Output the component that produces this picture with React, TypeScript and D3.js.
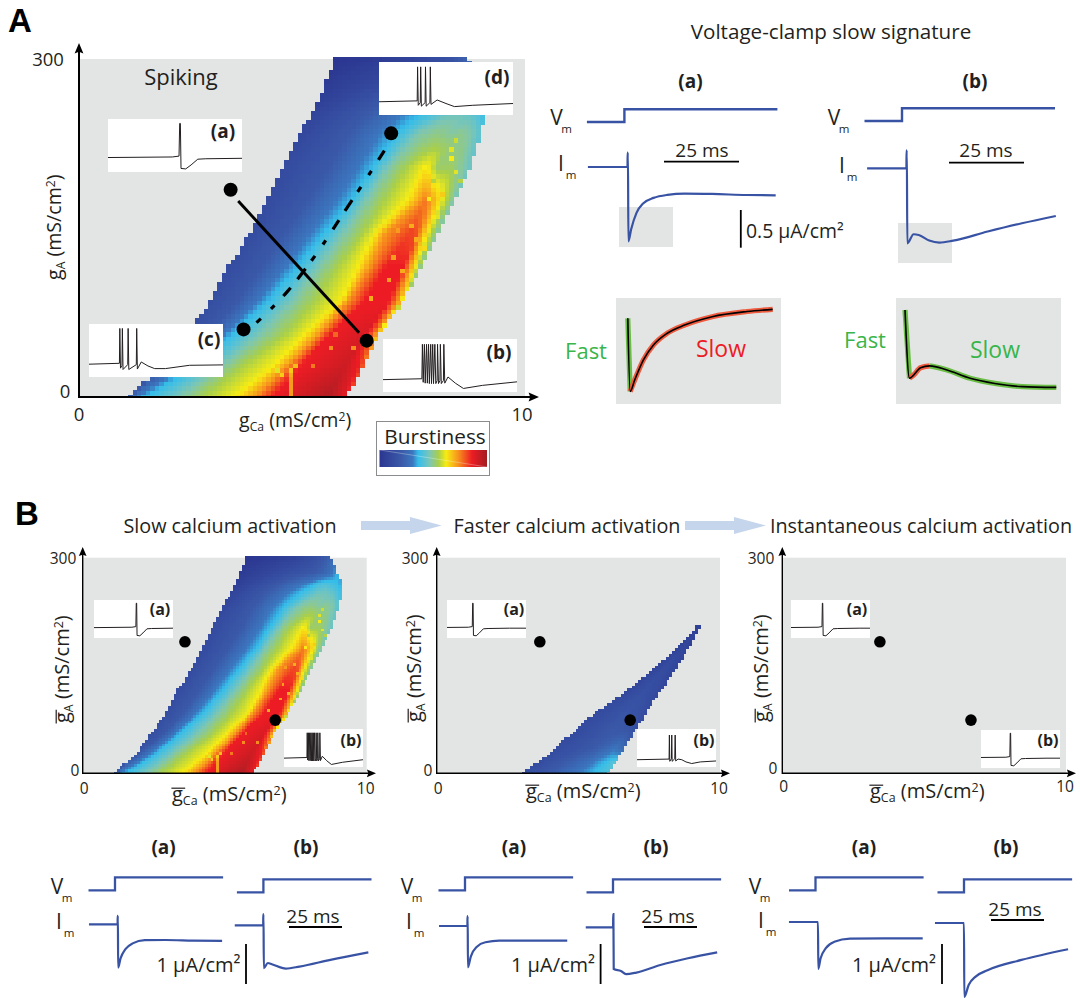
import React from 'react';
import * as d3 from 'd3';

type Pair = [number, number];

// burstiness colour ramp
const burstLevels = [0, 0.2, 0.31, 0.36, 0.42, 0.47, 0.55, 0.62, 0.73, 0.86, 1];
const burstColors = ['#2b3690', '#3a58a8', '#3b78bf', '#35bdea', '#5cc2d2', '#7fc6b0', '#a9cf4a', '#f7ec13', '#f7941d', '#ed1c24', '#a01d22'];

// slow activation map: for each gA row, [gCa, burstiness] read along the row
const slowRowsGA = [0, 27, 57, 86, 116, 146, 175, 205, 234, 251, 264, 280, 300];
const slowRows: Pair[][] = [
  [[1.1, 0.2], [1.2, 0.28], [1.47, 0.36], [2.24, 0.47], [2.78, 0.55], [3.48, 0.62], [3.94, 0.73], [4.33, 0.86], [5.57, 0.97], [5.88, 0.9], [5.99, 0.85]],
  [[1.86, 0.16], [1.95, 0.2], [2.55, 0.36], [3.17, 0.47], [3.63, 0.55], [4.33, 0.62], [4.64, 0.73], [4.95, 0.86], [5.95, 0.92], [6.26, 0.86], [6.38, 0.78]],
  [[2.44, 0.14], [2.9, 0.2], [3.45, 0.36], [4.1, 0.47], [4.64, 0.55], [5.1, 0.62], [5.41, 0.73], [5.65, 0.86], [6.42, 0.9], [6.65, 0.75], [6.73, 0.62]],
  [[2.96, 0.14], [3.55, 0.2], [4.25, 0.36], [4.8, 0.47], [5.3, 0.55], [5.88, 0.62], [6.03, 0.73], [6.42, 0.86], [6.96, 0.86], [7.19, 0.7], [7.27, 0.55]],
  [[3.35, 0.13], [4.1, 0.2], [4.9, 0.36], [5.4, 0.47], [5.8, 0.55], [6.26, 0.62], [6.53, 0.73], [6.88, 0.86], [7.27, 0.86], [7.54, 0.62], [7.66, 0.5]],
  [[3.85, 0.13], [4.6, 0.2], [5.5, 0.36], [5.95, 0.47], [6.38, 0.55], [6.65, 0.62], [6.88, 0.73], [7.42, 0.82], [7.58, 0.8], [7.81, 0.62], [8.04, 0.48]],
  [[4.2, 0.12], [5.1, 0.2], [6.1, 0.36], [6.45, 0.47], [6.85, 0.55], [7.35, 0.62], [7.66, 0.72], [7.77, 0.76], [7.89, 0.72], [8.12, 0.62], [8.43, 0.45]],
  [[4.57, 0.12], [5.6, 0.2], [6.6, 0.36], [6.95, 0.47], [7.35, 0.55], [7.66, 0.6], [7.77, 0.62], [7.89, 0.6], [8.04, 0.52], [8.35, 0.53], [8.78, 0.44]],
  [[4.95, 0.1], [6.0, 0.2], [7.1, 0.36], [7.6, 0.47], [7.97, 0.5], [8.1, 0.5], [8.2, 0.49], [8.35, 0.48], [8.55, 0.5], [8.8, 0.47], [9.0, 0.42]],
  [[5.2, 0.08], [6.4, 0.2], [7.6, 0.36], [8.28, 0.45], [8.4, 0.45], [8.5, 0.45], [8.6, 0.45], [8.7, 0.44], [8.8, 0.43], [8.95, 0.41], [9.1, 0.37]],
  [[5.37, 0.05], [6.7, 0.18], [8.0, 0.33], [8.3, 0.38], [8.4, 0.39], [8.5, 0.4], [8.6, 0.4], [8.7, 0.39], [8.8, 0.38], [8.95, 0.37], [9.1, 0.34]],
  [[5.55, 0.03], [6.9, 0.12], [8.1, 0.2], [8.3, 0.22], [8.4, 0.23], [8.5, 0.24], [8.6, 0.26], [8.7, 0.28], [8.8, 0.3], [8.9, 0.34], [8.95, 0.36]],
  [[5.72, 0], [6.6, 0.03], [7.2, 0.06], [7.6, 0.09], [7.9, 0.12], [8.1, 0.14], [8.25, 0.16], [8.4, 0.18], [8.5, 0.2], [8.6, 0.22], [8.71, 0.24]],
];
// single off-colour cells: gCa, gA, burstiness
const slowSpecks: [number, number, number][] = [
  [4.7, 0, 0.72], [4.7, 4, 0.72], [4.7, 8, 0.72], [4.7, 12, 0.72], [4.7, 16, 0.72], [4.7, 20, 0.7], [4.7, 24, 0.66], [4.8, 28, 0.68],
  [4.4, 24, 0.6], [4.5, 20, 0.66], [5.2, 28, 0.76], [5.6, 44, 0.74], [5.7, 56, 0.78], [6.1, 44, 0.74], [6.5, 88, 0.7], [6.9, 104, 0.72],
  [7.2, 112, 0.7], [7.0, 124, 0.72], [7.3, 92, 0.72], [7.1, 148, 0.72], [7.4, 152, 0.7], [7.5, 140, 0.7], [8.0, 160, 0.6], [7.8, 176, 0.62],
  [7.9, 190, 0.56], [8.3, 210, 0.62], [8.4, 200, 0.6], [8.5, 192, 0.56], [8.3, 220, 0.6], [8.4, 228, 0.58], [8.1, 180, 0.66], [7.7, 132, 0.64],
];

// faster activation map, same reading
const fasterRowsGA = [0, 16, 35, 63, 86, 118, 158, 192, 204];
const fasterRows: Pair[][] = [
  [[2.98, 0.14], [3.8, 0.19], [4.8, 0.29], [5.6, 0.37], [6.04, 0.4]],
  [[3.6, 0.13], [4.3, 0.19], [5.2, 0.27], [6.0, 0.37], [6.29, 0.42]],
  [[4.2, 0.13], [5.0, 0.17], [5.7, 0.22], [6.3, 0.3], [6.6, 0.25]],
  [[4.95, 0.12], [5.7, 0.16], [6.3, 0.2], [6.8, 0.18], [7.06, 0.14]],
  [[5.65, 0.12], [6.2, 0.15], [6.7, 0.18], [7.2, 0.15], [7.41, 0.12]],
  [[6.82, 0.1], [7.1, 0.13], [7.4, 0.15], [7.7, 0.13], [7.95, 0.1]],
  [[8.0, 0.08], [8.15, 0.1], [8.3, 0.12], [8.5, 0.1], [8.65, 0.08]],
  [[8.94, 0.06], [8.98, 0.07], [9.03, 0.08], [9.08, 0.07], [9.12, 0.06]],
  [[9.12, 0.06], [9.16, 0.07], [9.2, 0.08], [9.25, 0.07], [9.29, 0.06]],
];

// voltage traces of the insets: time (ms), Vm (mV)
const spikeOne: Pair[] = [[-30, -48], [48, -46], [53, -44], [53.5, 30], [54, 30], [54.5, -72], [58, -73], [62, -64], [67, -51], [73, -50], [100, -49], [140, -49]];
const spikeTwoBurst: Pair[] = [[0, -57], [40.6, -55], [41, 21], [41.5, -62], [43.6, -54], [44, 21], [44.5, -62], [47.8, -54], [48.3, 21], [49, -61], [52, -55], [56.7, -57], [62, -64], [69.3, -69], [80, -64], [100, -61]];
const spikeFour: Pair[] = [[0, -51], [22.7, -49], [23, 30], [23.5, -60], [24.6, -54], [24.9, 30], [25.4, -63], [28.9, -52], [29.2, 30], [29.7, -63], [35.3, -52], [35.6, 30], [36.1, -62], [39, -46], [44, -55], [49, -61], [57, -61], [75, -53.5], [100, -52.6]];
const spikeFourD: Pair[] = [[0, -50], [28.5, -48], [28.8, 29], [29.3, -58], [30.8, -52], [31.1, 29], [31.6, -60], [34.4, -52], [34.7, 29], [35.2, -60], [38, -52], [38.3, 29], [38.8, -56], [43.4, -46], [50, -54], [56.3, -61], [70, -58], [100, -54]];
const spikeBurst: Pair[] = [[0, -52], [29, -50], [29.4, 28], [30, -58], [30.9, 28], [31.5, -60], [32.5, 28], [33.1, -60], [34, 28], [34.6, -61], [35.6, 28], [36.2, -61], [37.1, 28], [37.7, -61], [38.7, 28], [39.4, -61], [40.4, -54], [40.7, 28], [41.4, -61], [42.5, -54], [42.8, 28], [43.5, -61], [45.1, -54], [45.4, 28], [46.1, -60], [48.5, -46], [54, -60], [60, -72], [74.2, -65], [100, -57]];

// voltage step and clamp currents: time (ms), current (uA/cm2, relative to holding)
const vmStep: Pair[] = [[-12.5, 0], [0, 0], [0, 10], [51, 10]];
const imSmallA: Pair[] = [[-13.3, 0], [-0.1, 0], [-0.05, 0.19], [0.05, 0.19], [0.2, -0.987], [1.1, -0.83], [2.9, -0.61], [5.2, -0.48], [8.6, -0.41], [13.2, -0.37], [18.9, -0.354], [28, -0.358], [39.6, -0.372], [49.3, -0.376]];
const imSmallB: Pair[] = [[-13.2, 0], [-0.1, 0], [-0.05, 0.24], [0.05, 0.24], [0.2, -0.996], [2.3, -0.876], [4, -0.885], [7.5, -0.96], [10.9, -0.987], [15.5, -0.96], [27, -0.84], [38.4, -0.73], [49.7, -0.633]];
const imSlowA: Pair[] = [[-13.6, 0], [-0.1, 0], [-0.05, 0.21], [0.05, 0.21], [0.15, -1.09], [1.3, -0.86], [3.7, -0.62], [7, -0.48], [12.7, -0.4], [22.4, -0.395], [35.4, -0.41], [49.2, -0.42]];
const imSlowB: Pair[] = [[-13.5, 0], [-0.1, 0], [-0.05, 0.28], [0.05, 0.28], [0.2, -1.08], [2.1, -0.95], [4, -0.98], [10.6, -1.09], [17, -1.04], [31.6, -0.87], [49.5, -0.68]];
const imFasterA: Pair[] = [[-13.5, 0], [-0.1, 0], [-0.05, 0.25], [0.05, 0.25], [0.15, -1.04], [1.5, -0.77], [4.4, -0.52], [8.4, -0.41], [15, -0.37], [47, -0.37]];
const imFasterB: Pair[] = [[-13, 0], [-0.1, 0], [-0.05, 0.33], [0.05, 0.33], [0.2, -1.05], [3.6, -1.1], [6, -1.18], [10.9, -1.14], [22.2, -0.95], [35.2, -0.78], [49, -0.63]];
const imInstantA: Pair[] = [[-13.8, 0], [-0.1, 0], [0.05, -1.18], [1.1, -0.92], [3.6, -0.66], [7.6, -0.5], [15, -0.42], [31, -0.41], [49.3, -0.41]];
const imInstantB: Pair[] = [[-13.8, 0], [-0.1, 0], [0.05, -1.86], [2.1, -1.56], [5.4, -1.35], [11, -1.19], [27, -0.93], [49, -0.66]];

// blown-up grey boxes, split into fast and slow pieces
const zoomA: Pair[] = [[0, 0], [0.26, -0.368], [0.75, -0.31], [1.69, -0.21], [2.8, -0.134], [4.3, -0.075], [6.2, -0.034], [9.2, 0.008], [13, 0.034], [15.8, 0.045]];
const zoomB: Pair[] = [[0, 0], [0.49, -0.343], [0.94, -0.327], [1.69, -0.29], [2.7, -0.281], [4.5, -0.3], [7.1, -0.343], [9.8, -0.369], [12.8, -0.385], [16.5, -0.389]];

// panel A markers, gCa and gA
const dotsA: Pair[] = [[3.4, 184], [6.45, 50], [3.69, 60], [7.0, 234]];
const solidLineA: Pair[] = [[3.57, 174], [6.28, 57]];
const dashedLineA: Pair[] = [[3.98, 66], [4.68, 94], [5.34, 128], [5.96, 165], [6.56, 201], [6.95, 225]];
const gCaTicks = [0, 10];
const gATicks = [0, 300];

const burstColor = d3.scaleLinear<string>().domain(burstLevels).range(burstColors).interpolate(d3.interpolateRgb);

const FONT = "'Open Sans', sans-serif";
const INK = '#231f20';
const BLUE = '#3953a4';
const GREY = '#e3e5e5';

// burstiness at a cell, null outside the bursting region
const burstAt = (rowsGA: number[], rows: Pair[][], gCa: number, gA: number) => {
  if (gA > rowsGA[rowsGA.length - 1]) return null;
  const r = Math.min(d3.bisectRight(rowsGA, gA) - 1, rowsGA.length - 2);
  const k = (gA - rowsGA[r]) / (rowsGA[r + 1] - rowsGA[r]);
  const xs = rows[r].map((s, i) => s[0] + (rows[r + 1][i][0] - s[0]) * k);
  const bs = rows[r].map((s, i) => s[1] + (rows[r + 1][i][1] - s[1]) * k);
  if (gCa < xs[0] || gCa > xs[xs.length - 1]) return null;
  return d3.scaleLinear().domain(xs).range(bs)(gCa);
};

const Heat = ({ x, y, rowsGA, rows, specks = [] }: any) => {
  const cells: React.ReactNode[] = [];
  const gCas = d3.range(100);
  const gAs = d3.range(76);
  const top = rowsGA[rowsGA.length - 1];
  const specksByCell = new Map(specks.map((s: any) => [`${Math.round(s[0] * 10)}:${Math.round(s[1] / 4)}`, s[2]]));
  gAs.forEach((j) => {
    const gA = j * 4;
    if (gA > top) return;
    gCas.forEach((i) => {
      const gCa = i * 0.1 + 0.05;
      const b = burstAt(rowsGA, rows, gCa, gA);
      if (b === null) return;
      const v = specksByCell.has(`${i}:${j}`) ? (specksByCell.get(`${i}:${j}`) as number) : b;
      const yTop = y(gA + 2);
      const yBottom = y(Math.max(gA - 2, 0));
      cells.push(
        <rect key={`${i}:${j}`} x={x(i * 0.1)} y={yTop} width={x(0.1) - x(0) + 0.4} height={yBottom - yTop + 0.4} fill={burstColor(v)} />
      );
    });
  });
  return <g shapeRendering="crispEdges">{cells}</g>;
};

const Txt = ({ x, y, size = 18, weight = 400, fill = INK, anchor = 'middle', family = FONT, children, ...rest }: any) => (
  <text x={x} y={y} fontSize={size} fontWeight={weight} fill={fill} textAnchor={anchor} dominantBaseline="central" fontFamily={family} {...rest}>
    {children}
  </text>
);

// g with subscript and (mS/cm2); bar adds the overline used in part B
const CondLabel = ({ x, y, sub, size, bar = false, rotate = false }: any) => {
  const transform = rotate ? `translate(${x},${y}) rotate(-90)` : `translate(${x},${y})`;
  return (
    <g transform={transform}>
      {bar && <line x1={-0.03 * size} x2={0.66 * size} y1={-0.64 * size} y2={-0.64 * size} stroke={INK} strokeWidth={1.2} />}
      <text fontSize={size} fill={INK} fontFamily={FONT}>
        <tspan>g</tspan>
        <tspan fontSize={size * 0.62} dy={size * 0.22}>{sub}</tspan>
        <tspan dy={-size * 0.22}> (mS/cm</tspan>
        <tspan fontSize={size * 0.62} dy={-size * 0.32}>2</tspan>
        <tspan dy={size * 0.32}>)</tspan>
      </text>
    </g>
  );
};

const Inset = ({ box, trace, shift = 0, label, lx, ly, size }: any) => {
  const [x0, y0, w, h] = box;
  const sx = d3.scaleLinear().domain([shift, 100 + shift]).range([0, w]);
  const sy = d3.scaleLinear().domain([-80, 40]).range([h, 0]);
  const line = d3.line<Pair>().x((d) => sx(d[0])).y((d) => sy(d[1]));
  return (
    <g>
      <rect x={x0} y={y0} width={w} height={h} fill="#fff" />
      <svg x={x0} y={y0} width={w} height={h}>
        <path d={line(trace) as string} fill="none" stroke={INK} strokeWidth={1} strokeLinejoin="round" />
      </svg>
      <Txt x={lx} y={ly} size={size} weight={700}>{label}</Txt>
    </g>
  );
};

const Axes = ({ x, y, xEnd, yEnd, w, head }: any) => {
  const [x0, x1] = [x(0), xEnd];
  const [y0, y1] = [y(0), yEnd];
  return (
    <g fill="#000">
      <line x1={x0} x2={x1 - head} y1={y0} y2={y0} stroke="#000" strokeWidth={w} />
      <line x1={x0} x2={x0} y1={y0 + w / 2} y2={y1 + head} stroke="#000" strokeWidth={w} />
      <polygon points={`${x1},${y0} ${x1 - head * 1.3},${y0 - head * 0.55} ${x1 - head * 1.1},${y0} ${x1 - head * 1.3},${y0 + head * 0.55}`} />
      <polygon points={`${x0},${y1} ${x0 - head * 0.55},${y1 + head * 1.3} ${x0},${y1 + head * 1.1} ${x0 + head * 0.55},${y1 + head * 1.3}`} />
    </g>
  );
};

const Clamp = ({ data, x0, y0, perMs, perUnit, stroke = BLUE, width = 2.2, curved = true, opacity = 1 }: any) => {
  const sx = d3.scaleLinear().domain([0, 50]).range([x0, x0 + 50 * perMs]);
  const sy = d3.scaleLinear().domain([0, 1]).range([y0, y0 - perUnit]);
  const line = d3.line<Pair>().x((d) => sx(d[0])).y((d) => sy(d[1]));
  if (curved) line.curve(d3.curveMonotoneX);
  return <path d={line(data) as string} fill="none" stroke={stroke} strokeWidth={width} strokeLinejoin="miter" opacity={opacity} />;
};

const VmLabel = ({ x, y, letter }: any) => (
  <g>
    <Txt x={x} y={y} size={21}>{letter}</Txt>
    <Txt x={x + 10} y={y + 11} size={11.5}>m</Txt>
  </g>
);

const Dot = ({ cx, cy, r }: any) => <circle cx={cx} cy={cy} r={r} fill="#000" />;

// one small map of part B
const MapB = ({ x0, x10, rows, rowsGA, specks, dots, insetA, insetB, labelX, labelY, yLabelX, yLabelY, tickY, yZeroX, y300X, yZeroY, shiftA, shiftB, traceB, arrowEnd }: any) => {
  const x = d3.scaleLinear().domain([0, 10]).range([x0, x10]);
  const y = d3.scaleLinear().domain([0, 300]).range([773.3, 557.7]);
  return (
    <g>
      <rect x={x0} y={y(300)} width={x10 - x0} height={y(0) - y(300)} fill={GREY} />
      {rows && <Heat x={x} y={y} rows={rows} rowsGA={rowsGA} specks={specks} />}
      <Axes x={x} y={y} xEnd={arrowEnd} yEnd={547} w={1.4} head={7} />
      <Inset box={insetA.box} trace={spikeOne} shift={shiftA} label="(a)" lx={insetA.lx} ly={609} size={16} />
      <Inset box={insetB.box} trace={traceB} shift={shiftB} label="(b)" lx={insetB.lx} ly={insetB.ly} size={16} />
      {dots.map((d: Pair, i: number) => <Dot key={i} cx={x(d[0])} cy={y(d[1])} r={5.8} />)}
      <Txt x={y300X} y={y(300)} size={15.5}>{gATicks[1]}</Txt>
      <Txt x={yZeroX} y={yZeroY} size={15.5}>{gATicks[0]}</Txt>
      <Txt x={x(gCaTicks[0]) + 1.5} y={tickY} size={15.5}>{gCaTicks[0]}</Txt>
      <Txt x={x(gCaTicks[1]) - 1} y={tickY} size={15.5}>{gCaTicks[1]}</Txt>
      <CondLabel x={labelX} y={labelY} sub="Ca" size={20} bar />
      <CondLabel x={yLabelX} y={yLabelY} sub="A" size={20} bar rotate />
    </g>
  );
};

// clamp columns of part B
const ClampRow = ({ vmA, vmB, imA, imB, dataA, dataB, vmX, imX, imY, text, textY }: any) => (
  <g>
    <VmLabel x={vmX} y={886} letter="V" />
    <VmLabel x={imX} y={imY} letter="I" />
    <Clamp data={vmStep} x0={vmA} y0={890.3} perMs={2.12} perUnit={1.3} curved={false} width={2.3} />
    <Clamp data={vmStep} x0={vmB} y0={892.3} perMs={2.12} perUnit={1.3} curved={false} width={2.3} />
    <Clamp data={dataA} x0={imA[0]} y0={imA[1]} perMs={2.12} perUnit={39.7} />
    <Clamp data={dataB} x0={imB[0]} y0={imB[1]} perMs={2.12} perUnit={39.7} />
    <Txt x={text.labelA} y={847} size={19} weight={700}>(a)</Txt>
    <Txt x={text.labelB} y={847} size={19} weight={700}>(b)</Txt>
    <Txt x={text.ms} y={textY} size={19}>25 ms</Txt>
    <line x1={text.ms - 24} x2={text.ms + 29} y1={textY + 11} y2={textY + 11} stroke="#000" strokeWidth={1.8} />
    <Txt x={text.scale} y={964} size={20}>1 µA/cm²</Txt>
    <line x1={text.bar} x2={text.bar} y1={944} y2={984} stroke="#000" strokeWidth={1.8} />
  </g>
);

const BlockArrow = ({ x0, x1, xh }: any) => (
  <polygon points={`${x0},521 ${xh},521 ${xh},517 ${x1},525.5 ${xh},534 ${xh},530 ${x0},530`} fill="#c5d5ec" />
);

export default function App() {
  const xA = d3.scaleLinear().domain([0, 10]).range([79, 525]);
  const yA = d3.scaleLinear().domain([0, 300]).range([397, 59]);
  const lineA = d3.line<Pair>().x((d) => xA(d[0])).y((d) => yA(d[1]));
  const curveA = d3.line<Pair>().x((d) => xA(d[0])).y((d) => yA(d[1])).curve(d3.curveMonotoneX);
  const gradientStops = burstLevels.map((l, i) => (
    <stop key={i} offset={`${l * 100}%`} stopColor={burstColors[i]} />
  ));

  return (
    <svg width={1080} height={998} style={{ position: 'absolute', left: 0, top: 0, background: '#fff' }}>
      <defs>
        <linearGradient id="burst">{gradientStops}</linearGradient>
      </defs>

      {/* part A, map */}
      <Txt x={20} y={20} size={33} weight={700} fill="#000" family="'Liberation Sans', sans-serif">A</Txt>
      <rect x={xA(0)} y={yA(300)} width={xA(10) - xA(0)} height={yA(0) - yA(300)} fill={GREY} />
      <Heat x={xA} y={yA} rows={slowRows} rowsGA={slowRowsGA} specks={slowSpecks} />
      <Axes x={xA} y={yA} xEnd={539} yEnd={43} w={2} head={8} />
      <Txt x={181} y={76} size={22}>Spiking</Txt>
      <Inset box={[108, 119, 134, 53]} trace={spikeOne} label="(a)" lx={223} ly={131} size={19} />
      <Inset box={[383, 339, 134, 53]} trace={spikeBurst} label="(b)" lx={499} ly={352} size={19} />
      <Inset box={[89, 324, 134, 53]} trace={spikeFour} label="(c)" lx={209} ly={339} size={19} />
      <Inset box={[379, 62, 134, 53]} trace={spikeFourD} label="(d)" lx={497} ly={77} size={19} />
      <path d={lineA(solidLineA) as string} fill="none" stroke="#000" strokeWidth={3} />
      <path d={curveA(dashedLineA) as string} fill="none" stroke="#000" strokeWidth={3.2} strokeDasharray="6 14 5 13 11 11 13 10" />
      {dotsA.map((d, i) => <Dot key={i} cx={xA(d[0])} cy={yA(d[1])} r={7} />)}
      <Txt x={48} y={58} size={18.5}>{gATicks[1]}</Txt>
      <Txt x={65} y={390} size={18.5}>{gATicks[0]}</Txt>
      <Txt x={xA(gCaTicks[0])} y={413} size={18.5}>{gCaTicks[0]}</Txt>
      <Txt x={xA(gCaTicks[1]) - 3} y={413} size={18.5}>{gCaTicks[1]}</Txt>
      <CondLabel x={239} y={427} sub="Ca" size={19.6} />
      <CondLabel x={61} y={280} sub="A" size={19.6} rotate />

      {/* legend */}
      <rect x={376.5} y={421.5} width={113} height={54} fill="#fff" stroke="#8a8c8e" strokeWidth={1} />
      <Txt x={435} y={436} size={20.8}>Burstiness</Txt>
      <rect x={379.5} y={450} width={107.5} height={17} fill="url(#burst)" />
      <line x1={380} x2={487} y1={450} y2={467} stroke="#fff" strokeWidth={0.6} opacity={0.5} />

      {/* part A, voltage clamp */}
      <Txt x={831} y={31} size={20.6}>Voltage-clamp slow signature</Txt>
      <Txt x={690.5} y={81} size={19} weight={700}>(a)</Txt>
      <Txt x={975} y={81} size={19} weight={700}>(b)</Txt>
      <VmLabel x={556.5} y={117} letter="V" />
      <VmLabel x={834} y={117} letter="V" />
      <VmLabel x={561} y={163} letter="I" />
      <VmLabel x={842} y={165} letter="I" />
      <rect x={619} y={207} width={54} height={40} fill={GREY} />
      <rect x={898} y={223} width={54} height={40} fill={GREY} />
      <Clamp data={vmStep} x0={624.4} y0={122} perMs={3} perUnit={1.27} curved={false} width={2.4} />
      <Clamp data={vmStep} x0={902} y0={121} perMs={3} perUnit={1.27} curved={false} width={2.4} />
      <Clamp data={imSmallA} x0={627.8} y0={167} perMs={3} perUnit={75.3} />
      <Clamp data={imSmallB} x0={906.7} y0={168.3} perMs={3} perUnit={75.3} />
      <Txt x={702} y={150} size={19}>25 ms</Txt>
      <line x1={664} x2={739} y1={161.7} y2={161.7} stroke="#000" strokeWidth={1.8} />
      <Txt x={986} y={150} size={19}>25 ms</Txt>
      <line x1={949} x2={1024} y1={162.7} y2={162.7} stroke="#000" strokeWidth={1.8} />
      <line x1={740.8} x2={740.8} y1={210} y2={247.7} stroke="#000" strokeWidth={1.8} />
      <Txt x={746} y={230} size={19.4} anchor="start">0.5 µA/cm²</Txt>

      <rect x={616} y={298} width={165} height={106} fill={GREY} />
      <rect x={896} y={298} width={165} height={106} fill={GREY} />
      <Clamp data={zoomA.slice(0, 2)} x0={627.8} y0={318.3} perMs={9.17} perUnit={199} stroke="#6abd45" width={5.2} curved={false} />
      <Clamp data={zoomA.slice(1)} x0={627.8} y0={318.3} perMs={9.17} perUnit={199} stroke="#ef5b3f" width={5.2} />
      <Clamp data={zoomA} x0={627.8} y0={318.3} perMs={9.17} perUnit={199} stroke="#000" width={1.6} />
      <Clamp data={zoomB.slice(0, 2)} x0={905} y0={310} perMs={9.17} perUnit={199} stroke="#6abd45" width={5.2} curved={false} />
      <Clamp data={zoomB.slice(1, 5)} x0={905} y0={310} perMs={9.17} perUnit={199} stroke="#ef5b3f" width={5.2} />
      <Clamp data={zoomB.slice(4)} x0={905} y0={310} perMs={9.17} perUnit={199} stroke="#6abd45" width={5.2} />
      <Clamp data={zoomB} x0={905} y0={310} perMs={9.17} perUnit={199} stroke="#000" width={1.6} />
      <Txt x={586} y={350} size={22} fill="#39b54a">Fast</Txt>
      <Txt x={721} y={348} size={23} fill="#ed1c24">Slow</Txt>
      <Txt x={865} y={339} size={22} fill="#39b54a">Fast</Txt>
      <Txt x={995} y={349} size={23} fill="#39b54a">Slow</Txt>

      {/* part B */}
      <Txt x={27} y={513} size={33} weight={700} fill="#000" family="'Liberation Sans', sans-serif">B</Txt>
      <Txt x={230} y={525} size={19.8}>Slow calcium activation</Txt>
      <Txt x={567} y={525} size={19.8}>Faster calcium activation</Txt>
      <Txt x={921} y={525} size={19.8}>Instantaneous calcium activation</Txt>
      <BlockArrow x0={361} x1={441.7} xh={410} />
      <BlockArrow x0={685} x1={766} xh={734} />

      <MapB
        x0={82.7} x10={366.7} rows={slowRows} rowsGA={slowRowsGA} specks={slowSpecks} dots={[[3.6, 183], [6.78, 74]]}
        insetA={{ box: [94, 600, 79, 38], lx: 160 }} insetB={{ box: [284, 729, 79, 38], lx: 351, ly: 740 }}
        labelX={172} labelY={801} yLabelX={69} yLabelY={723} tickY={788} yZeroX={75} y300X={63} yZeroY={770}
        shiftA={0} shiftB={0} traceB={spikeBurst} arrowEnd={376}
      />
      <MapB
        x0={436.7} x10={720} rows={fasterRows} rowsGA={fasterRowsGA} specks={[]} dots={[[3.64, 183], [6.83, 74]]}
        insetA={{ box: [447, 600, 79, 38], lx: 514 }} insetB={{ box: [637, 729, 79, 38], lx: 704, ly: 740 }}
        labelX={526} labelY={798} yLabelX={421} yLabelY={722} tickY={788} yZeroX={428} y300X={415} yZeroY={770}
        shiftA={21} shiftB={0} traceB={spikeTwoBurst} arrowEnd={730}
      />
      <MapB
        x0={782.3} x10={1066} dots={[[3.44, 183], [6.65, 74]]}
        insetA={{ box: [791, 600, 79, 38], lx: 857 }} insetB={{ box: [981, 730, 79, 38], lx: 1048, ly: 740 }}
        labelX={870} labelY={798} yLabelX={768} yLabelY={722} tickY={786} yZeroX={773} y300X={761} yZeroY={768}
        shiftA={13.8} shiftB={16.5} traceB={spikeOne} arrowEnd={1076}
      />

      <ClampRow
        vmA={115} vmB={263.4} imA={[117.8, 924.3]} imB={[263.4, 925.3]} dataA={imSlowA} dataB={imSlowB}
        vmX={57} imX={59} imY={921} textY={916}
        text={{ labelA: 163.6, labelB: 306, ms: 313, scale: 198.5, bar: 246 }}
      />
      <ClampRow
        vmA={465} vmB={613} imA={[467.6, 926]} imB={[613.3, 927.3]} dataA={imFasterA} dataB={imFasterB}
        vmX={407} imX={409} imY={921} textY={916}
        text={{ labelA: 514, labelB: 656, ms: 668, scale: 553, bar: 600.6 }}
      />
      <ClampRow
        vmA={815.5} vmB={964} imA={[818.2, 922]} imB={[964.2, 923]} dataA={imInstantA} dataB={imInstantB}
        vmX={755} imX={761} imY={920} textY={909}
        text={{ labelA: 864, labelB: 1006, ms: 1015, scale: 894, bar: 942 }}
      />
    </svg>
  );
}
